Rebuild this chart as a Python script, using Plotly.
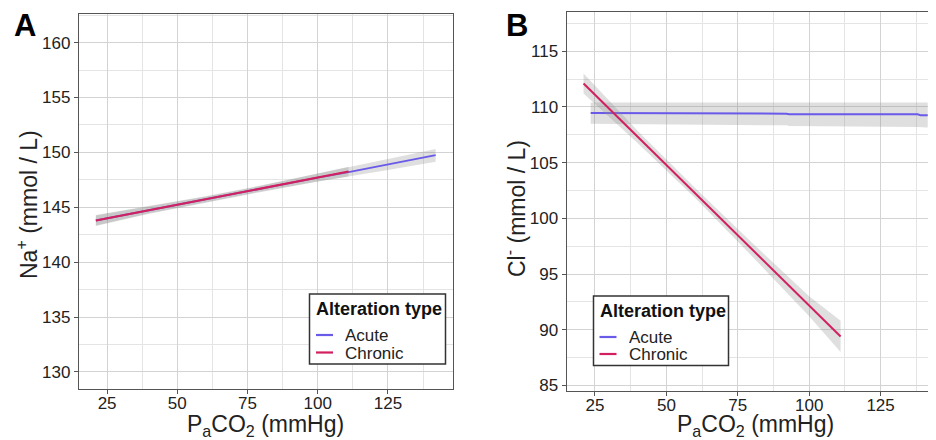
import plotly.graph_objects as go

# ---------------- data ----------------
# Panel A: Na+ vs PaCO2
a_acute_x = [21, 40, 60, 80, 100, 111, 125, 142]
a_acute_y = [143.8, 144.75, 145.7, 146.7, 147.7, 148.2, 148.9, 149.75]
a_acute_lo = [143.3, 144.4, 145.4, 146.4, 147.35, 147.8, 148.4, 149.15]
a_acute_hi = [144.3, 145.1, 146.0, 147.0, 148.05, 148.6, 149.4, 150.3]

a_chronic_x = [21, 40, 60, 80, 100, 111]
a_chronic_y = [143.8, 144.75, 145.7, 146.7, 147.7, 148.25]
a_chronic_lo = [143.35, 144.45, 145.45, 146.45, 147.35, 147.8]
a_chronic_hi = [144.25, 145.05, 145.95, 146.95, 148.05, 148.7]

# Panel B: Cl- vs PaCO2
b_acute_x = [23.5, 42, 43, 92, 93, 138, 139, 141.5]
b_acute_y = [109.45, 109.45, 109.4, 109.4, 109.35, 109.35, 109.25, 109.25]
b_acute_lo = [108.5, 108.45, 108.45, 108.35, 108.3, 108.2, 108.15, 108.15]
b_acute_hi = [110.4, 110.4, 110.4, 110.4, 110.4, 110.4, 110.4, 110.4]

b_chronic_x = [21, 40, 60, 80, 100, 111]
b_chronic_y = [112.1, 107.3, 102.3, 97.2, 92.1, 89.4]
b_chronic_lo = [111.2, 106.75, 101.85, 96.6, 91.2, 88.0]
b_chronic_hi = [113.0, 107.85, 102.75, 97.8, 93.0, 90.8]

series_names = ["Acute", "Chronic"]
series_colors = {"Acute": "#6A5AEA", "Chronic": "#D21F5F"}
legend_title = "Alteration type"

x_ticks = [25, 50, 75, 100, 125]
a_y_ticks = [130, 135, 140, 145, 150, 155, 160]
b_y_ticks = [85, 90, 95, 100, 105, 110, 115]

x_title = "P<sub>a</sub>CO<sub>2</sub> (mmHg)"
a_y_title = "Na<sup>+</sup> (mmol / L)"
b_y_title = "Cl<sup>-</sup> (mmol / L)"

FONT = "Liberation Sans, Arial, sans-serif"
RIBBON = "rgba(140,140,140,0.28)"

# The page body has an 8px margin: the figure is 928x432 and placed at (8, 8).
W, H, OFF = 928, 432, 8
def px(x):
    return (x - OFF) / W
def py(y):
    return 1 - (y - OFF) / H

fig = go.Figure()


def add_series(xs, ys, lo, hi, name, xa, ya):
    fig.add_trace(go.Scatter(
        x=list(xs) + list(xs)[::-1], y=list(hi) + list(lo)[::-1],
        mode="lines", fill="toself", fillcolor=RIBBON, line=dict(width=0),
        hoverinfo="skip", showlegend=False, xaxis=xa, yaxis=ya))
    fig.add_trace(go.Scatter(
        x=xs, y=ys, mode="lines", name=name,
        line=dict(color=series_colors[name], width=2),
        xaxis=xa, yaxis=ya, showlegend=False))


add_series(a_acute_x, a_acute_y, a_acute_lo, a_acute_hi, "Acute", "x", "y")
add_series(a_chronic_x, a_chronic_y, a_chronic_lo, a_chronic_hi, "Chronic", "x", "y")
add_series(b_acute_x, b_acute_y, b_acute_lo, b_acute_hi, "Acute", "x2", "y2")
add_series(b_chronic_x, b_chronic_y, b_chronic_lo, b_chronic_hi, "Chronic", "x2", "y2")

GRID = "#d3d3d3"
MINOR = "#e4e4e4"
BORDER = "#555555"

def xaxis_style(domain, anchor, rng):
    return dict(
        domain=domain, anchor=anchor, range=rng, automargin=False,
        tickvals=x_ticks, ticks="outside", ticklen=4, tickcolor="#555",
        ticklabelstandoff=-6,
        tickfont=dict(family=FONT, size=17, color="#222"),
        showgrid=True, gridcolor=GRID, gridwidth=1.2,
        minor=dict(showgrid=True, gridcolor=MINOR, gridwidth=1, dtick=12.5, tick0=0),
        showline=True, linecolor=BORDER, linewidth=1.3, mirror=True,
        zeroline=False,
    )

def yaxis_style(domain, anchor, rng, ticks, mirror):
    return dict(
        domain=domain, anchor=anchor, range=rng, automargin=False,
        tickvals=ticks, ticks="outside", ticklen=4, tickcolor="#555",
        tickfont=dict(family=FONT, size=17, color="#222"),
        showgrid=True, gridcolor=GRID, gridwidth=1.2,
        minor=dict(showgrid=True, gridcolor=MINOR, gridwidth=1, dtick=2.5, tick0=0),
        showline=True, linecolor=BORDER, linewidth=1.3, mirror=mirror,
        zeroline=False,
    )

shapes = []
annotations = []

def add_legend(box_l, box_t, box_r, box_b, title_x, title_y, line_x0, line_x1, text_x, item_ys):
    shapes.append(dict(type="rect", xref="paper", yref="paper",
                       x0=px(box_l), x1=px(box_r), y0=py(box_b), y1=py(box_t),
                       line=dict(color="#333", width=1.5), fillcolor="white", layer="above"))
    annotations.append(dict(text="<b>" + legend_title + "</b>", xref="paper", yref="paper",
                            x=px(title_x), y=py(title_y), xanchor="left", yanchor="middle",
                            height=20, showarrow=False,
                            font=dict(family=FONT, size=18, color="#111")))
    for name, yy in zip(series_names, item_ys):
        shapes.append(dict(type="line", xref="paper", yref="paper",
                           x0=px(line_x0), x1=px(line_x1), y0=py(yy), y1=py(yy),
                           line=dict(color=series_colors[name], width=2.2), layer="above"))
        annotations.append(dict(text=name, xref="paper", yref="paper",
                                x=px(text_x), y=py(yy), xanchor="left", yanchor="middle",
                                height=16, showarrow=False,
                                font=dict(family=FONT, size=17, color="#222")))

add_legend(309.5, 294, 445.5, 364, 313.5, 308.5, 316, 333, 343, [335, 352.5])
add_legend(593.5, 296, 728.5, 365.5, 597.5, 310.5, 599.5, 616.5, 627, [337, 354])

def add_title(text, x, y, angle):
    annotations.append(dict(text=text, x=px(x), y=py(y), xref="paper", yref="paper",
                            xanchor="center", yanchor="middle", showarrow=False,
                            textangle=angle, font=dict(family=FONT, size=23, color="#222")))

add_title(x_title, 265.5, 425, 0)
add_title(x_title, 755.5, 425, 0)
add_title(a_y_title, 27, 205, -90)
add_title(b_y_title, 515, 209, -90)

annotations.append(dict(text="<b>A</b>", x=px(12), y=py(34.5), xref="paper", yref="paper",
                        xanchor="left", yanchor="bottom", showarrow=False, yshift=-11,
                        font=dict(family=FONT, size=31, color="black")))
annotations.append(dict(text="<b>B</b>", x=px(504), y=py(34.5), xref="paper", yref="paper",
                        xanchor="left", yanchor="bottom", showarrow=False, yshift=-11,
                        font=dict(family=FONT, size=31, color="black")))

fig.update_layout(
    width=W, height=H,
    margin=dict(l=0, r=0, t=0, b=0),
    paper_bgcolor="white", plot_bgcolor="white",
    showlegend=False,
    xaxis=xaxis_style([px(79), px(452.5)], "y", [15, 148]),
    yaxis=yaxis_style([py(389), py(14)], "x", [128.45, 162.6], a_y_ticks, True),
    xaxis2=xaxis_style([px(566.7), 1.0], "y2", [15.1, 144.4]),
    yaxis2=yaxis_style([py(391), py(12.3)], "x2", [84.5, 118.5], b_y_ticks, False),
    shapes=shapes,
    annotations=annotations,
)

fig.write_html("out.html")
